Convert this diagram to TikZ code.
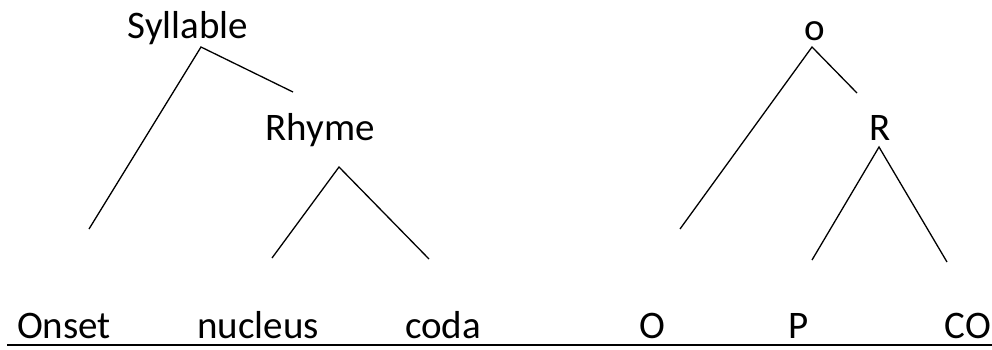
\documentclass[tikz,border=0pt]{standalone}
\usepackage{fontspec}
\setmainfont{Carlito}
\usepackage{tikz}

\begin{document}
\begin{tikzpicture}[x=1pt, y=-1pt, every node/.style={font=\fontsize{39}{44}\selectfont, inner sep=0pt, anchor=base}, branch/.style={line width=1.3pt}]
  \useasboundingbox (0,0) rectangle (992,349);
  % Left tree
  \node (syllable) at (188,38) {Syllable};
  \node (rhyme) at (320,140) {Rhyme};
  \node (onset) at (64,338) {Onset};
  \node (nucleus) at (258,338) {nucleus};
  \node (coda) at (443,338) {coda};
  \coordinate (sylroot) at (201,47);
  \coordinate (onsettop) at (89,229);
  \coordinate (rhymetop) at (293,92);
  \coordinate (rhymeroot) at (339,167);
  \coordinate (nucleustop) at (272,258);
  \coordinate (codatop) at (429,259);
  % Right tree
  \node (o) at (815,40) {o};
  \node (R) at (880,140) {R};
  \node (O) at (652,338) {O};
  \node (P) at (799,338) {P};
  \node (CO) at (968,338) {CO};
  \coordinate (oroot) at (812,47);
  \coordinate (Otop) at (680,229);
  \coordinate (Rtop) at (857,93);
  \coordinate (Rroot) at (879,147);
  \coordinate (Ptop) at (812,260);
  \coordinate (COtop) at (947,262);
  % Draw the branches
  \draw[branch] (onsettop) -- (sylroot) -- (rhymetop);
  \draw[branch] (nucleustop) -- (rhymeroot) -- (codatop);
  \draw[branch] (Otop) -- (oroot) -- (Rtop);
  \draw[branch] (Ptop) -- (Rroot) -- (COtop);
  % Underline of the bottom row
  \coordinate (lineleft) at (7,345);
  \coordinate (lineright) at (992,345);
  \draw[line width=1.8pt] (lineleft) -- (lineright);
\end{tikzpicture}
\end{document}
